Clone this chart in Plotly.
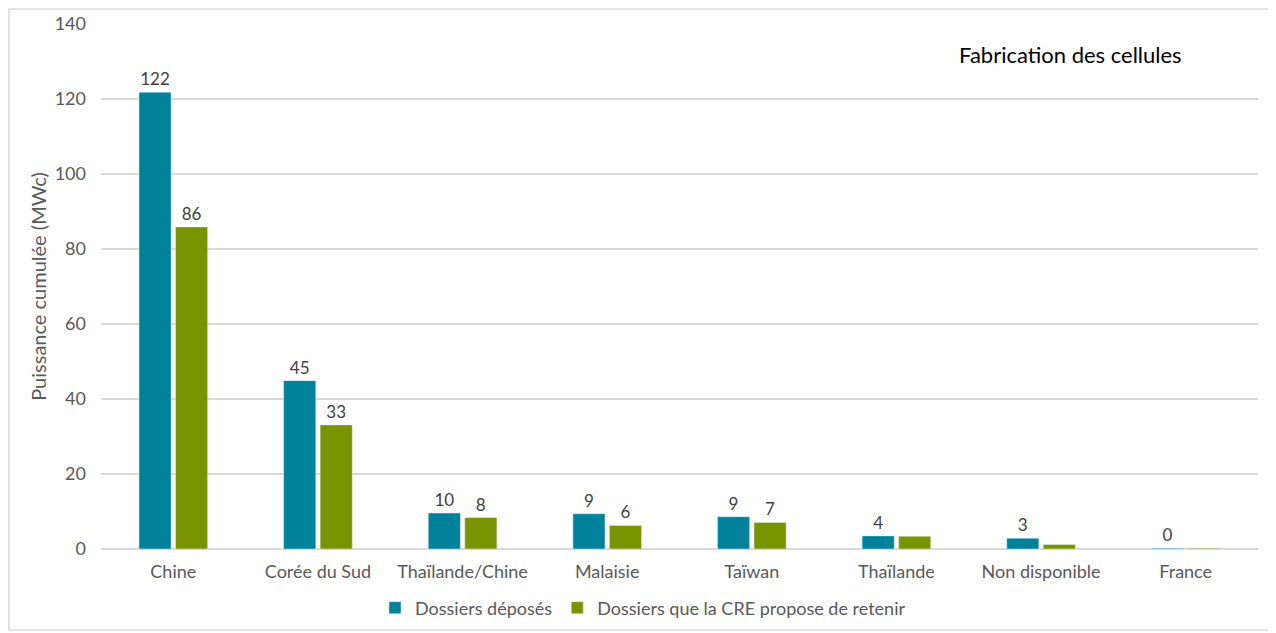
import plotly.graph_objects as go

# Puissance cumulée par pays de fabrication des cellules (MWc)
pays = ["Chine", "Corée du Sud", "Thaïlande/Chine", "Malaisie", "Taïwan",
        "Thaïlande", "Non disponible", "France"]
deposes = [121.8, 44.9, 9.6, 9.4, 8.6, 3.5, 2.9, 0.2]
retenus = [85.9, 33.1, 8.4, 6.3, 7.1, 3.4, 1.2, 0.2]
labels_deposes = ["122", "45", "10", "9", "9", "4", "3", "0"]
labels_retenus = ["86", "33", "8", "6", "7", "", "", ""]

bleu = "#00829B"
vert = "#7A9300"
police = "Lato, 'Noto Sans', sans-serif"

fig = go.Figure()
fig.add_trace(go.Bar(x=pays, y=deposes, name="Dossiers déposés",
                     marker_color=bleu, text=labels_deposes,
                     textposition="outside", cliponaxis=False,
                     textfont=dict(color="#404040", size=17)))
fig.add_trace(go.Bar(x=pays, y=retenus, name="Dossiers que la CRE propose de retenir",
                     marker_color=vert, text=labels_retenus,
                     textposition="outside", cliponaxis=False,
                     textfont=dict(color="#404040", size=17)))

# the page body adds an 8px margin, so figure coords = page coords - 8
off = 8
W, H = 1276, 633
l, t = 101 - off, 24 - off
r, b = W - (1258 - off), H - (549 - off)
pw, ph = W - l - r, H - t - b


def px_x(x):
    return (x - off - l) / pw


def px_y(y):
    return (t + ph - (y - off)) / ph


fig.update_layout(
    width=W, height=H,
    margin=dict(l=l, r=r, t=t, b=b, autoexpand=False),
    paper_bgcolor="white", plot_bgcolor="white",
    font=dict(family=police, color="#595959", size=18),
    barmode="group", bargap=0.495, bargroupgap=0.12,
    showlegend=True,
    legend=dict(orientation="h", x=px_x(643), xanchor="center",
                yref="container", y=(H - (608 - off)) / H, yanchor="middle",
                bgcolor="rgba(0,0,0,0)",
                font=dict(size=18, color="#595959"), itemwidth=30,
                traceorder="normal"),
    annotations=[dict(text="Fabrication des cellules",
                      xref="paper", x=px_x(1070), xanchor="center",
                      yref="paper", y=px_y(55), yanchor="middle",
                      showarrow=False,
                      font=dict(size=22, color="black", family=police))],
    shapes=[dict(type="rect", xref="paper", yref="paper",
                 x0=px_x(off + 1), x1=px_x(1270),
                 y0=px_y(630), y1=px_y(off + 1),
                 line=dict(color="#d9d9d9", width=1.5), layer="below")],
)

fig.update_xaxes(showgrid=False, showline=False, ticks="", automargin=False,
                 tickfont=dict(size=18, color="#595959"), ticklabelstandoff=10)
fig.update_yaxes(range=[0, 140], dtick=20, showgrid=True, gridcolor="#d9d9d9",
                 gridwidth=1.5, zeroline=True, zerolinecolor="#d9d9d9",
                 zerolinewidth=1.5, showline=False, ticks="", automargin=False,
                 tickfont=dict(size=18, color="#595959"), ticklabelstandoff=14,
                 title=dict(text="Puissance cumulée (MWc)", standoff=2,
                            font=dict(size=20, color="#595959")))

fig.write_html("out.html")
